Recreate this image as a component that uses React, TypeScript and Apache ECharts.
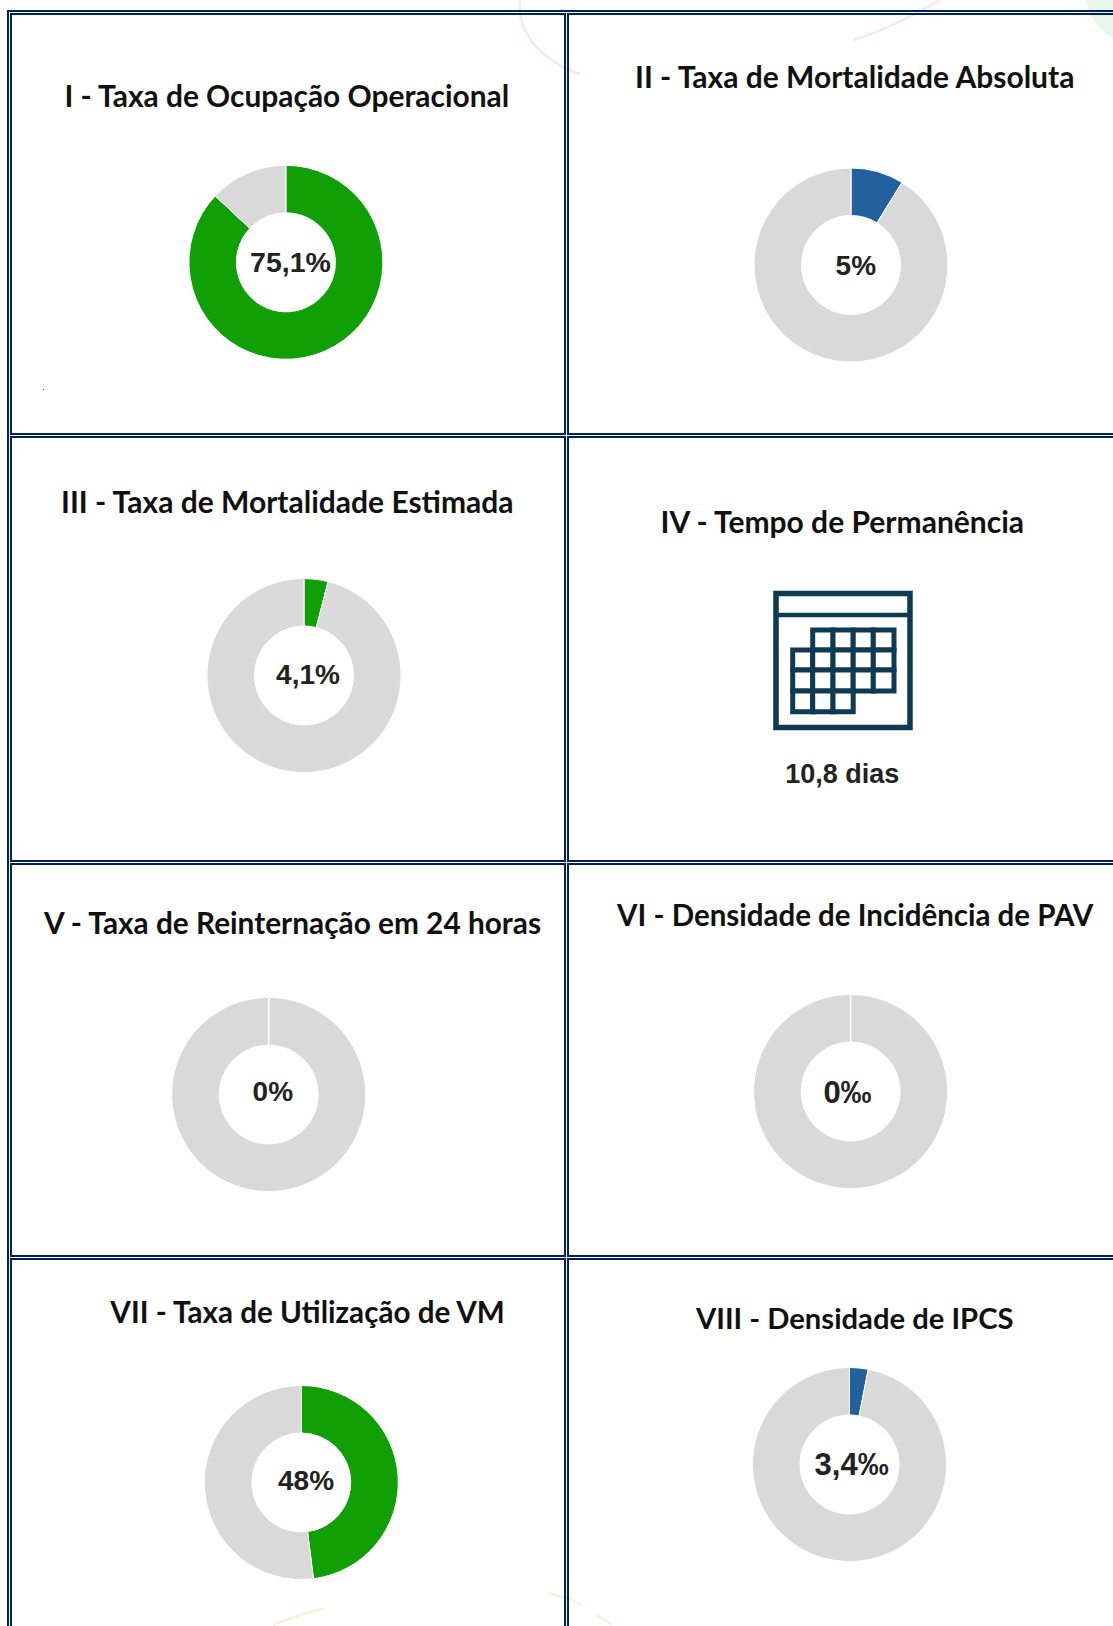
import React, { useEffect, useRef } from "react";
import * as echarts from "echarts";

const W = 1113;
const H = 1626;

const titles = [
  "I - Taxa de Ocupação Operacional",
  "II - Taxa de Mortalidade Absoluta",
  "III - Taxa de Mortalidade Estimada",
  "IV - Tempo de Permanência",
  "V - Taxa de Reinternação em 24 horas",
  "VI - Densidade de Incidência de PAV",
  "VII - Taxa de Utilização de VM",
  "VIII - Densidade de IPCS",
];
const valueLabels = ["75,1%", "5%", "4,1%", "10,8 dias", "0%", "0‰", "48%", "3,4‰"];
// filled share of each ring as drawn, in percent (null: no ring, the calendar panel)
const ringValues = [87, 8.8, 4, null, 0, 0, 48, 3.1];
const ringColors = ["#10a005", "#22619e", "#10a005", "", "#10a005", "#22619e", "#10a005", "#22619e"];

const titlePos = [[286.8, 94.5], [854.7, 76], [287.3, 501], [842.3, 521], [292.5, 922], [855.2, 914], [307.6, 1311], [854.7, 1317]];
const titleSize = [29.9, 30, 30, 30, 29.8, 29.5, 29.6, 29.2];
const labelPos = [[290.5, 262], [855.8, 265.5], [308, 674.5], [842.3, 774], [272.8, 1091.5], [847.5, 1092.5], [306, 1480.5], [851.6, 1464.5]];
const labelSize = [28.5, 28, 28, 27, 28, 31, 28, 31];
const ringPos = [[285.9, 262.3], [851, 265], [304, 675.5], null, [268.7, 1094.5], [850.6, 1091.5], [301.3, 1482.5], [849.5, 1464.5]];
const R_OUT = 97;
const R_IN = 49.5;

const cellX = [[10, 566], [567, 1125]];
const cellY = [[13, 435], [436, 862], [863, 1257], [1258, 1660]];

const calCols = [792.7, 812.7, 833, 853.2, 873.3, 894];
const calRows = [630, 650, 670, 691, 711.7];
const calCells = [
  [1, 0], [2, 0], [3, 0], [4, 0],
  [0, 1], [1, 1], [2, 1], [3, 1], [4, 1],
  [0, 2], [1, 2], [2, 2], [3, 2], [4, 2],
  [0, 3], [1, 3], [2, 3],
];

const NAVY = "#002060";
const CAL = "#0e3a52";

function buildGraphic() {
  const els: any[] = [];
  // faint background ornaments
  const curve = (x1, y1, x2, y2, cx1, cy1, cx2, cy2, stroke) =>
    els.push({ type: "bezierCurve", silent: true, shape: { x1, y1, x2, y2, cpx1: cx1, cpy1: cy1, cpx2: cx2, cpy2: cy2 }, style: { stroke, lineWidth: 2.5, fill: "none" } });
  curve(520, 0, 580, 74, 516, 35, 545, 62, "#fde6ea");
  curve(940, 0, 854, 40, 915, 15, 885, 30, "#fde6ea");
  curve(273, 1625, 323, 1609, 290, 1618, 310, 1611, "#fff0dc");
  curve(548, 1593, 582, 1605, 560, 1596, 572, 1600, "#fff0dc");
  curve(597, 1615, 612, 1625, 602, 1618, 608, 1622, "#fff0dc");
  els.push({ type: "circle", silent: true, shape: { cx: 1140, cy: -10, r: 55 }, style: { fill: "#e8f6ea" } });

  // table borders
  els.push({ type: "rect", silent: true, shape: { x: 8, y: 11, width: W + 40, height: H + 40 }, style: { fill: "none", stroke: NAVY, lineWidth: 2 } });
  cellY.forEach(([y0, y1]) =>
    cellX.forEach(([x0, x1]) =>
      els.push({ type: "rect", silent: true, shape: { x: x0 + 1, y: y0 + 1, width: x1 - x0 - 2, height: y1 - y0 - 2 }, style: { fill: "#fff", fillOpacity: 0, stroke: NAVY, lineWidth: 2 } })
    )
  );

  titles.forEach((t, i) =>
    els.push({ type: "text", silent: true, x: titlePos[i][0], y: titlePos[i][1], style: { text: t, align: "center", verticalAlign: "middle", font: `700 ${titleSize[i]}px Lato`, fill: "#111" } })
  );
  valueLabels.forEach((t, i) =>
    els.push({ type: "text", silent: true, z: 5, x: labelPos[i][0], y: labelPos[i][1], style: { text: t, align: "center", verticalAlign: "middle", font: `700 ${labelSize[i]}px "Liberation Sans"`, fill: "#222" } })
  );

  // seam at the top of the empty rings
  ringValues.forEach((v, i) => {
    const p = ringPos[i];
    if (v === 0 && p) {
      els.push({ type: "line", silent: true, z: 4, shape: { x1: p[0], y1: p[1] - R_OUT, x2: p[0], y2: p[1] - R_IN }, style: { stroke: "#fff", lineWidth: 1.5 } });
    }
  });

  // calendar icon
  els.push({ type: "rect", silent: true, shape: { x: 776, y: 593.5, width: 134, height: 134 }, style: { fill: "#fff", stroke: CAL, lineWidth: 5.5 } });
  els.push({ type: "line", silent: true, shape: { x1: 776, y1: 615, x2: 910, y2: 615 }, style: { stroke: CAL, lineWidth: 4.5 } });
  calCells.forEach(([c, r]) =>
    els.push({ type: "rect", silent: true, shape: { x: calCols[c], y: calRows[r], width: calCols[c + 1] - calCols[c], height: calRows[r + 1] - calRows[r] }, style: { fill: "#fff", stroke: CAL, lineWidth: 5 } })
  );
  // stray dot in the first panel
  els.push({ type: "rect", silent: true, shape: { x: 43, y: 389, width: 1, height: 1 }, style: { fill: "#333" } });
  return els;
}

export default function App() {
  const ref = useRef<HTMLDivElement>(null);
  useEffect(() => {
    document.body.style.margin = "0";
    const chart = echarts.init(ref.current!, null, { renderer: "svg" });
    const series = ringValues
      .map((v, i) =>
        v === null
          ? null
          : {
              type: "pie",
              center: ringPos[i],
              radius: [R_IN, R_OUT],
              startAngle: 90,
              silent: true,
              label: { show: false },
              labelLine: { show: false },
              itemStyle: { borderColor: "#fff", borderWidth: 1 },
              data: [
                { name: titles[i], value: v, itemStyle: { color: ringColors[i] } },
                { name: "Restante", value: 100 - v, itemStyle: { color: "#d9d9d9" } },
              ],
            }
      )
      .filter(Boolean);
    chart.setOption({
      animation: false,
      backgroundColor: "#fff",
      graphic: { elements: buildGraphic() },
      series,
    });
    return () => chart.dispose();
  }, []);
  return <div ref={ref} style={{ width: W, height: H, position: "absolute", left: 0, top: 0 }} />;
}
